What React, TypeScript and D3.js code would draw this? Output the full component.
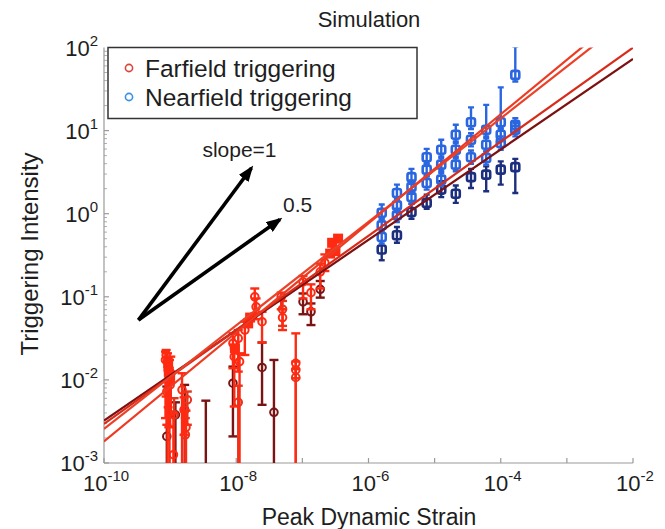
import { useEffect, useRef } from "react";
import * as d3 from "d3";

// each point: [log10 strain, log10 intensity, error below, error above] (decades)
type ErrPoint = [number, number, number, number];

const X_DECADES = [-10, -9, -8, -7, -6, -5, -4, -3, -2];
const X_LABELS = [-10, -8, -6, -4, -2];
const Y_DECADES = [-3, -2, -1, 0, 1, 2];

const farBright: ErrPoint[] = [
  [-9.06, -1.7, 0.5, 0.06],
  [-9.07, -1.76, 0.7, 0.1],
  [-9.04, -1.78, 2, 0.1],
  [-9.03, -1.88, 0.45, 0.15],
  [-9.02, -2.02, 0.55, 0.12],
  [-9.01, -1.96, 2, 0.2],
  [-8.99, -1.92, 0.5, 0.2],
  [-9.0, -2.06, 0.5, 0.1],
  [-9.05, -2.14, 0.4, 0.12],
  [-8.95, -2.9, 2, 0.5],
  [-8.82, -2.12, 2, 0.2],
  [-8.79, -2.36, 0.3, 0.15],
  [-8.76, -2.57, 2, 0.2],
  [-8.05, -1.56, 0.3, 0.12],
  [-8.03, -1.72, 0.6, 0.1],
  [-7.97, -1.5, 0.4, 0.1],
  [-7.95, -1.78, 2, 0.1],
  [-7.87, -1.4, 0.3, 0.1],
  [-7.72, -1.0, 0.2, 0.1],
  [-7.7, -1.12, 0.15, 0.1],
  [-7.61, -1.3, 0.25, 0.12],
  [-7.32, -1.0, 0.15, 0.05],
  [-7.3, -1.25, 0.15, 0.1],
  [-7.1, -1.8, 2, 0.36],
  [-7.1, -1.88, 0.1, 0.1],
  [-6.99, -0.82, 0.2, 0.07],
  [-6.87, -0.95, 0.2, 0.1],
  [-6.73, -0.7, 0.2, 0.1],
  [-6.66, -0.59, 0.1, 0.1],
];

const farRed: ErrPoint[] = [
  [-8.94, -2.42, 2, 0.2],
  [-8.74, -2.24, 0.3, 0.1],
  [-8.77, -2.66, 2, 0.2],
  [-7.97, -2.27, 2, 0.2],
  [-7.1, -1.97, 2, 0.1],
  [-7.3, -1.15, 0.2, 0.1],
];

const farDark: ErrPoint[] = [
  [-9.05, -2.68, 2, 0.6],
  [-8.92, -2.42, 2, 0.15],
  [-8.78, -2.36, 2, 0.3],
  [-8.46, -3.4, 2, 1.15],
  [-8.05, -2.04, 0.64, 0.2],
  [-7.61, -1.85, 0.45, 0.3],
  [-7.43, -2.39, 2, 0.63],
  [-6.99, -1.06, 0.15, 0.1],
  [-6.87, -1.18, 0.16, 0.1],
  [-6.73, -0.91, 0.1, 0.1],
];

// filled squares [log10 strain, log10 intensity]
const farSquares: [number, number][] = [
  [-9.03, -1.8],
  [-9.02, -1.9],
  [-9.0, -1.98],
  [-8.02, -1.62],
  [-7.82, -1.32],
  [-7.79, -1.25],
  [-6.58, -0.48],
  [-6.55, -0.35],
  [-6.5, -0.45],
  [-6.46, -0.3],
];

const nearX = [-5.8, -5.57, -5.35, -5.12, -4.9, -4.68, -4.45, -4.22, -4.0, -3.78];
const nearHigh = [0.01, 0.25, 0.44, 0.68, 0.77, 0.95, 1.1, 1.01, 1.1, 1.67];
const nearMid = [-0.14, 0.1, 0.32, 0.53, 0.59, 0.77, 0.89, 0.83, 0.95, 1.07];
const nearLow = [-0.28, -0.02, 0.2, 0.37, 0.41, 0.59, 0.68, 0.67, 0.85, 1.01];
const nearDark = [-0.43, -0.26, 0.02, 0.13, 0.29, 0.24, 0.44, 0.47, 0.53, 0.56];
const nearErrUp = [0.1, 0.1, 0.1, 0.1, 0.12, 0.12, 0.18, 0.3, 0.42, 0.34];
const nearErrDown = [0.13, 0.09, 0.08, 0.07, 0.09, 0.11, 0.13, 0.2, 0.18, 0.31];

// fitted power laws: log10 intensity at strain 1e-10, and slope
const fitIntercepts = [-2.49, -2.53, -2.59, -2.74];
const fitSlopes = [0.544, 0.566, 0.623, 0.656];

const arrowStart: [number, number] = [-9.48, -1.28];
const arrowEnds: [number, number][] = [
  [-7.77, 0.55],
  [-7.34, -0.07],
];
const arrowLabels = ["slope=1", "0.5"];

const FONT = "'Liberation Sans', Arial, Helvetica, sans-serif";
const BRIGHT = "#ff2a12";
const RED = "#e2361f";
const DARK = "#7a1414";
const BLUE = "#2a66e0";
const NAVY = "#1c2f7e";
const FIT_COLORS = ["#7d1010", "#d92b1a", "#ea4128", "#ee3a22"];
const AXIS = "#9a9a9a";
const INK = "#1e1e1e";

export default function App() {
  const svgRef = useRef<SVGSVGElement>(null);

  useEffect(() => {
    const svgEl = svgRef.current;
    if (!svgEl) return;
    const svg = d3.select(svgEl);
    svg.selectAll("*").remove();

    const left = 104;
    const right = 633;
    const top = 47.5;
    const bottom = 463;

    const x = d3.scaleLog().domain([1e-10, 1e-2]).range([left, right]);
    const y = d3.scaleLog().domain([1e-3, 1e2]).range([bottom, top]);
    const px = (v: number) => x(Math.pow(10, v));
    const py = (v: number) => y(Math.pow(10, v));

    const defs = svg.append("defs");
    defs
      .append("clipPath")
      .attr("id", "plot-clip")
      .append("rect")
      .attr("x", left)
      .attr("y", top)
      .attr("width", right - left)
      .attr("height", bottom - top);

    defs
      .append("marker")
      .attr("id", "arrow-head")
      .attr("markerUnits", "userSpaceOnUse")
      .attr("markerWidth", 16)
      .attr("markerHeight", 12)
      .attr("refX", 13)
      .attr("refY", 6)
      .attr("orient", "auto")
      .append("path")
      .attr("d", "M0,0 L16,6 L0,12 Z")
      .attr("fill", "#000");

    svg
      .append("rect")
      .attr("width", 665)
      .attr("height", 529)
      .attr("fill", "#fff");

    // title and axis labels
    svg
      .append("text")
      .attr("x", 369)
      .attr("y", 27)
      .attr("text-anchor", "middle")
      .attr("font-family", FONT)
      .attr("font-size", 22)
      .attr("fill", INK)
      .text("Simulation");

    svg
      .append("text")
      .attr("x", 369)
      .attr("y", 525)
      .attr("text-anchor", "middle")
      .attr("font-family", FONT)
      .attr("font-size", 23)
      .attr("fill", INK)
      .text("Peak Dynamic Strain");

    svg
      .append("text")
      .attr("transform", "translate(38,254) rotate(-90)")
      .attr("text-anchor", "middle")
      .attr("font-family", FONT)
      .attr("font-size", 24)
      .attr("fill", INK)
      .text("Triggering Intensity");

    // axes
    const axes = svg.append("g").attr("stroke", AXIS).attr("stroke-width", 1.2);
    axes.append("line").attr("x1", left).attr("x2", left).attr("y1", top).attr("y2", bottom);
    axes.append("line").attr("x1", left).attr("x2", right).attr("y1", bottom).attr("y2", bottom);

    X_DECADES.forEach((d) => {
      axes
        .append("line")
        .attr("x1", px(d))
        .attr("x2", px(d))
        .attr("y1", bottom)
        .attr("y2", bottom - 5);
    });

    const yMinor = y.ticks().filter((t) => t < 100);
    yMinor.forEach((t) => {
      const major = Math.abs(Math.log10(t) - Math.round(Math.log10(t))) < 1e-6;
      axes
        .append("line")
        .attr("x1", left)
        .attr("x2", left + (major ? 5 : 3))
        .attr("y1", y(t))
        .attr("y2", y(t))
        .attr("stroke-width", major ? 1.2 : 0.8);
    });

    const expLabel = (
      sel: d3.Selection<SVGTextElement, unknown, null, undefined>,
      exp: number,
    ) => {
      sel.append("tspan").attr("font-size", 22).text("10");
      sel.append("tspan").attr("font-size", 15).attr("dy", -10).text(String(exp));
    };

    X_LABELS.forEach((d) => {
      const t = svg
        .append("text")
        .attr("x", px(d) + 2)
        .attr("y", 491)
        .attr("text-anchor", "middle")
        .attr("font-family", FONT)
        .attr("fill", INK);
      expLabel(t, d);
    });

    Y_DECADES.forEach((d) => {
      const t = svg
        .append("text")
        .attr("x", 98)
        .attr("y", py(d) + 8)
        .attr("text-anchor", "end")
        .attr("font-family", FONT)
        .attr("fill", INK);
      expLabel(t, d);
    });

    const plot = svg.append("g").attr("clip-path", "url(#plot-clip)");

    const drawErr = (
      pts: ErrPoint[],
      color: string,
      cap: number,
      marker: "circle" | "square",
    ) => {
      const g = plot.append("g").attr("stroke", color).attr("fill", "none");
      pts.forEach(([lx, ly, dn, up]) => {
        const cx = px(lx);
        const y0 = py(ly - dn);
        const y1 = py(ly + up);
        g.append("line").attr("x1", cx).attr("x2", cx).attr("y1", y0).attr("y2", y1).attr("stroke-width", 2.4);
        [y0, y1].forEach((yy) =>
          g
            .append("line")
            .attr("x1", cx - cap / 2)
            .attr("x2", cx + cap / 2)
            .attr("y1", yy)
            .attr("y2", yy)
            .attr("stroke-width", 2.4),
        );
        if (marker === "circle") {
          g.append("circle").attr("cx", cx).attr("cy", py(ly)).attr("r", 3.8).attr("stroke-width", 2).attr("fill", "none");
        } else {
          g.append("rect")
            .attr("x", cx - 4)
            .attr("y", py(ly) - 4)
            .attr("width", 8)
            .attr("height", 8)
            .attr("rx", 2)
            .attr("stroke-width", 2.6);
        }
      });
    };

    drawErr(farDark, DARK, 9, "circle");
    drawErr(farRed, RED, 9, "circle");
    drawErr(farBright, BRIGHT, 9, "circle");

    plot
      .append("g")
      .selectAll("rect")
      .data(farSquares)
      .enter()
      .append("rect")
      .attr("x", (d) => px(d[0]) - 5)
      .attr("y", (d) => py(d[1]) - 5)
      .attr("width", 10)
      .attr("height", 10)
      .attr("fill", BRIGHT);

    // nearfield columns
    const nearBluePts: ErrPoint[] = [];
    const nearDarkPts: ErrPoint[] = [];
    nearX.forEach((lx, i) => {
      nearBluePts.push([lx, nearHigh[i], 0.08, nearErrUp[i]]);
      nearBluePts.push([lx, nearMid[i], 0.08, 0.08]);
      nearBluePts.push([lx, nearLow[i], 0.08, 0.08]);
      nearDarkPts.push([lx, nearDark[i], nearErrDown[i], 0.1]);
    });
    drawErr(nearDarkPts, NAVY, 6, "square");
    drawErr(nearBluePts, BLUE, 6, "square");

    // fitted lines
    const line = d3
      .line<[number, number]>()
      .x((d) => px(d[0]))
      .y((d) => py(d[1]));
    fitIntercepts.forEach((a, i) => {
      const b = fitSlopes[i];
      plot
        .append("path")
        .attr("d", line([
          [-10, a],
          [-2, a + 8 * b],
        ]))
        .attr("fill", "none")
        .attr("stroke", FIT_COLORS[i])
        .attr("stroke-width", 2.2);
    });

    // slope arrows
    arrowEnds.forEach((end) => {
      svg
        .append("line")
        .attr("x1", px(arrowStart[0]))
        .attr("y1", py(arrowStart[1]))
        .attr("x2", px(end[0]))
        .attr("y2", py(end[1]))
        .attr("stroke", "#000")
        .attr("stroke-width", 3.6)
        .attr("marker-end", "url(#arrow-head)");
    });
    svg
      .append("text")
      .attr("x", px(arrowEnds[0][0]) - 12)
      .attr("y", 157)
      .attr("text-anchor", "middle")
      .attr("font-family", FONT)
      .attr("font-size", 21)
      .attr("fill", INK)
      .text(arrowLabels[0]);
    svg
      .append("text")
      .attr("x", 283)
      .attr("y", 212)
      .attr("font-family", FONT)
      .attr("font-size", 21)
      .attr("fill", INK)
      .text(arrowLabels[1]);

    // legend
    const legend = svg.append("g");
    legend
      .append("rect")
      .attr("x", 108)
      .attr("y", top)
      .attr("width", 309)
      .attr("height", 71)
      .attr("fill", "#fff")
      .attr("stroke", "#333")
      .attr("stroke-width", 1.5);
    [
      { label: "Farfield triggering", color: "#d9453a" },
      { label: "Nearfield triggering", color: "#3a90e2" },
    ].forEach((item, i) => {
      const cy = 68 + i * 29;
      legend
        .append("circle")
        .attr("cx", 129)
        .attr("cy", cy)
        .attr("r", 3.6)
        .attr("fill", "none")
        .attr("stroke", item.color)
        .attr("stroke-width", 1.6);
      legend
        .append("text")
        .attr("x", 145)
        .attr("y", cy + 8.5)
        .attr("font-family", FONT)
        .attr("font-size", 24.5)
        .attr("fill", INK)
        .text(item.label);
    });
  }, []);

  return (
    <div style={{ position: "fixed", left: 0, top: 0 }}>
      <svg ref={svgRef} width={665} height={529} style={{ display: "block" }} />
    </div>
  );
}
